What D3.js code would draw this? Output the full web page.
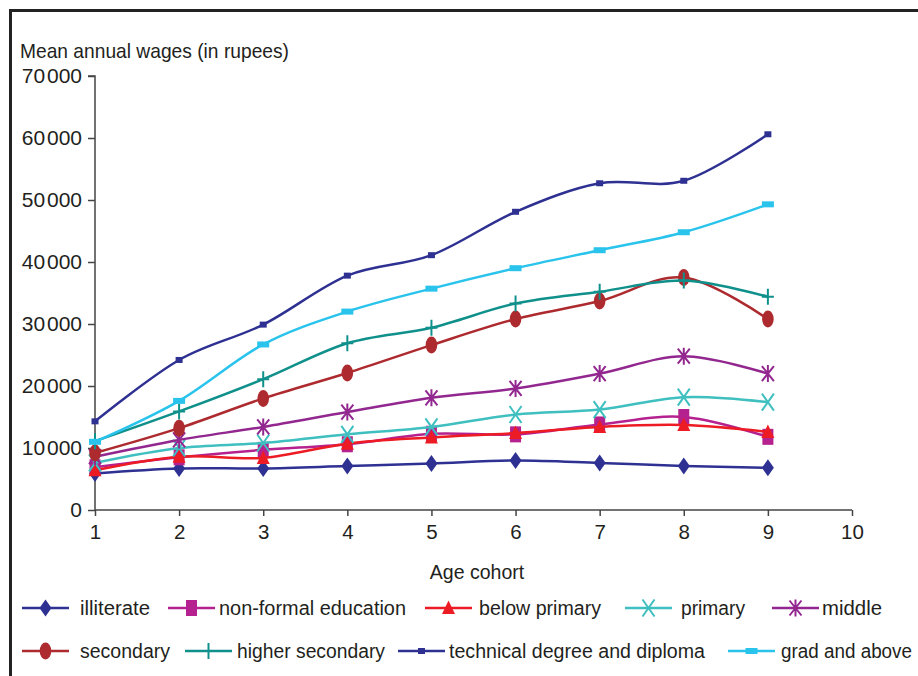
<!DOCTYPE html>
<html>
<head>
<meta charset="utf-8">
<script src="https://cdn.jsdelivr.net/npm/d3@7/dist/d3.min.js"></script>
<style>
  html, body { margin: 0; padding: 0; background: #fff; }
  svg { display: block; }
  text { font-family: "Liberation Sans", Arial, sans-serif; fill: #231f20; }
</style>
</head>
<body>
<svg id="chart" width="918" height="676"></svg>
<script>
// ---------- data ----------
const cohorts = [1, 2, 3, 4, 5, 6, 7, 8, 9];
const illiterate      = [5900, 6700, 6700, 7100, 7500, 8000, 7600, 7100, 6800];
const nonFormal       = [6900, 8500, 9700, 10600, 12300, 12200, 13800, 15000, 11800];
const belowPrimary    = [6400, 8600, 8400, 10700, 11700, 12400, 13400, 13700, 12600];
const primary         = [7600, 10000, 10800, 12200, 13400, 15400, 16200, 18200, 17400];
const middle          = [8600, 11300, 13400, 15800, 18100, 19600, 22000, 24800, 22000];
const secondary       = [9200, 13200, 18000, 22100, 26600, 30800, 33700, 37500, 30800];
const higherSecondary = [11100, 15900, 21100, 26900, 29400, 33300, 35200, 37000, 34400];
const technical       = [14300, 24200, 29900, 37800, 41100, 48100, 52700, 53100, 60600];
const grad            = [11000, 17600, 26700, 32000, 35700, 39000, 41900, 44800, 49300];

const seriesNames = ["illiterate", "non-formal education", "below primary", "primary", "middle",
                     "secondary", "higher secondary", "technical degree and diploma", "grad and above"];
const seriesValues = [illiterate, nonFormal, belowPrimary, primary, middle,
                      secondary, higherSecondary, technical, grad];
const xTicks = [1, 2, 3, 4, 5, 6, 7, 8, 9, 10];
const yTicks = [0, 10000, 20000, 30000, 40000, 50000, 60000, 70000];

// ---------- styles ----------
const seriesColors = ["#2e3192", "#b5218e", "#ed1c24", "#3fbfbf", "#92278f",
                      "#ad2a2f", "#10908b", "#2e3192", "#29c3ec"];
const seriesMarkers = ["diamond", "tallRect", "triangle", "xcross", "asterisk",
                       "ellipse", "plus", "smallSquare", "wideRect"];
// legend layout: [row, lineStartX, textStartX, textWidth]
const legendLayout = [
  [0, 22, 80, 70], [0, 168, 219, 187], [0, 425, 479, 122], [0, 625, 681, 64], [0, 772, 822, 60],
  [1, 22, 80, 90], [1, 185, 237, 148], [1, 398, 449, 256], [1, 728, 781, 131]
];

const svg = d3.select("#chart");

// frame
svg.append("path")
  .attr("d", "M10.5,676 L10.5,10.5 L918,10.5")
  .attr("fill", "none").attr("stroke", "#222").attr("stroke-width", 3);

const x = d3.scaleLinear().domain([1, 10]).range([95, 852]);
const y = d3.scaleLinear().domain([0, 70000]).range([510, 76]);

const fmt = v => d3.format(",")(v).replace(/,/g, "\u200A");

// y axis
const yAxis = svg.append("g").attr("transform", `translate(${x(1)},0)`)
  .call(d3.axisLeft(y).tickValues(yTicks).tickSize(7).tickPadding(6).tickFormat(fmt));
yAxis.select(".domain").attr("stroke", "#444").attr("stroke-width", 1.5)
  .attr("d", `M-7,${y(70000)}H0V${y(0)}`);
yAxis.selectAll(".tick line").attr("stroke", "#444").attr("stroke-width", 1.5);
yAxis.selectAll(".tick text").attr("font-size", 21).attr("fill", "#231f20")
  .attr("font-family", "'Liberation Sans', Arial, sans-serif");

// x axis
const xAxis = svg.append("g").attr("transform", `translate(0,${y(0)})`)
  .call(d3.axisBottom(x).tickValues(xTicks).tickSize(6).tickPadding(8).tickFormat(d3.format("d")));
xAxis.select(".domain").attr("stroke", "#444").attr("stroke-width", 1.5)
  .attr("d", `M${x(1)},0H${x(10)}`);
xAxis.selectAll(".tick line").attr("stroke", "#444").attr("stroke-width", 1.5);
xAxis.selectAll(".tick text").attr("font-size", 20.5).attr("fill", "#231f20")
  .attr("font-family", "'Liberation Sans', Arial, sans-serif");

// titles
svg.append("text").attr("x", 20).attr("y", 58).attr("font-size", 21)
  .attr("textLength", 269).attr("lengthAdjust", "spacingAndGlyphs")
  .text("Mean annual wages (in rupees)");
svg.append("text").attr("x", 477).attr("y", 579).attr("font-size", 19.5)
  .attr("text-anchor", "middle").text("Age cohort");

// markers
function drawMarker(g, type, color) {
  switch (type) {
    case "diamond":
      g.append("path").attr("d", "M0,-8.5L6,0L0,8.5L-6,0Z").attr("fill", color); break;
    case "tallRect":
      g.append("rect").attr("x", -5.5).attr("y", -8).attr("width", 11).attr("height", 16).attr("fill", color); break;
    case "triangle":
      g.append("path").attr("d", "M0,-7.5L6.5,6L-6.5,6Z").attr("fill", color); break;
    case "xcross":
      g.append("path").attr("d", "M-6,-8.5L6,8.5M-6,8.5L6,-8.5").attr("stroke", color).attr("stroke-width", 2).attr("fill", "none"); break;
    case "asterisk":
      g.append("path").attr("d", "M-6,-7.5L6,7.5M-6,7.5L6,-7.5M0,-8.5L0,8.5").attr("stroke", color).attr("stroke-width", 2).attr("fill", "none"); break;
    case "ellipse":
      g.append("ellipse").attr("rx", 5.8).attr("ry", 8.5).attr("fill", color); break;
    case "plus":
      g.append("path").attr("d", "M-6,0L6,0M0,-8L0,8").attr("stroke", color).attr("stroke-width", 2).attr("fill", "none"); break;
    case "smallSquare":
      g.append("rect").attr("x", -3.5).attr("y", -3).attr("width", 7).attr("height", 6).attr("fill", color); break;
    case "wideRect":
      g.append("rect").attr("x", -6).attr("y", -3).attr("width", 12).attr("height", 6).attr("fill", color); break;
  }
}

const line = d3.line()
  .x((d, i) => x(cohorts[i]))
  .y(d => y(d))
  .curve(d3.curveCardinal.tension(0));

const plot = svg.append("g");
seriesValues.forEach((vals, si) => {
  const g = plot.append("g");
  g.append("path").datum(vals).attr("d", line)
    .attr("fill", "none").attr("stroke", seriesColors[si]).attr("stroke-width", 2.5)
    .attr("stroke-linejoin", "round");
  vals.forEach((v, i) => {
    const mg = g.append("g").attr("transform", `translate(${x(cohorts[i])},${y(v)})`);
    drawMarker(mg, seriesMarkers[si], seriesColors[si]);
  });
});

// legend
const legendRowY = [608, 651];
const legend = svg.append("g");
seriesNames.forEach((name, si) => {
  const [row, lx, tx, tw] = legendLayout[si];
  const cy = legendRowY[row];
  const g = legend.append("g");
  g.append("line").attr("x1", lx).attr("x2", lx + 47).attr("y1", cy).attr("y2", cy)
    .attr("stroke", seriesColors[si]).attr("stroke-width", 2.5);
  const mg = g.append("g").attr("transform", `translate(${lx + 23.5},${cy})`);
  drawMarker(mg, seriesMarkers[si], seriesColors[si]);
  g.append("text").attr("x", tx).attr("y", cy + 6.5).attr("font-size", 19.5)
    .attr("textLength", tw).attr("lengthAdjust", "spacingAndGlyphs").text(name);
});
</script>
</body>
</html>
